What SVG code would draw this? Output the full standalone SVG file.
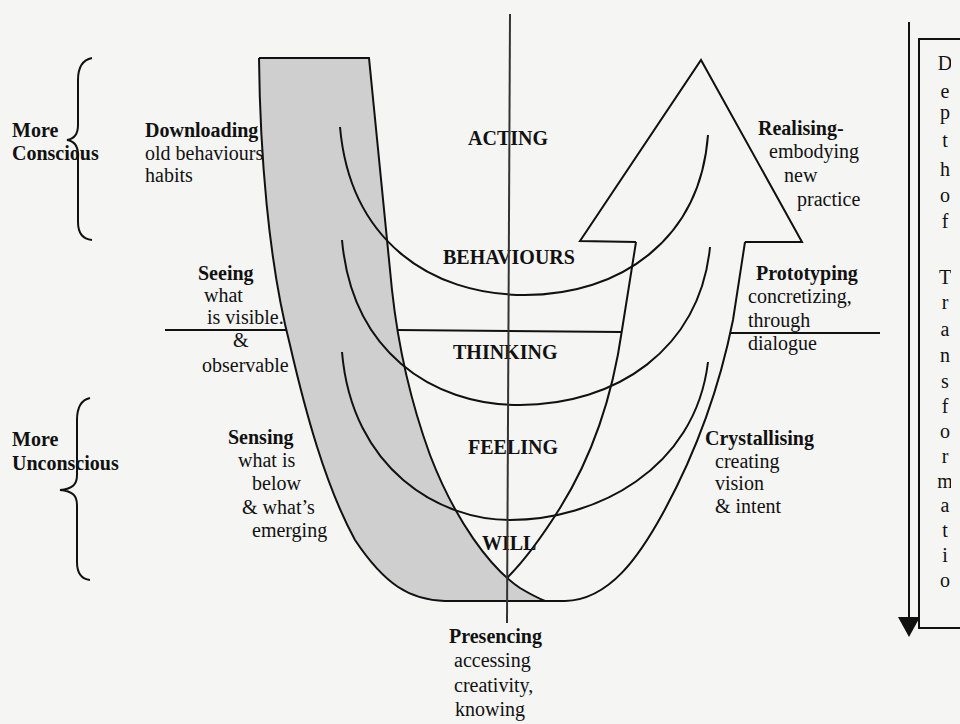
<svg xmlns="http://www.w3.org/2000/svg" width="960" height="724" viewBox="0 0 960 724">
<style>
text{font-family:"Liberation Serif","Times New Roman",serif;font-size:20px;fill:#111}
.b{font-weight:bold}
.ln{fill:none;stroke:#111;stroke-width:2}
.bx text{text-anchor:middle}
</style>
<defs>
<clipPath id="boxclip"><rect x="920" y="40" width="31" height="588"/></clipPath>
</defs>
<rect width="960" height="724" fill="#f5f5f3"/>

<g id="label-downloading">
<text x="145" y="137" class="b">Downloading</text>
<text x="145" y="160">old behaviours</text>
<text x="145" y="182">habits</text>
</g>
<g id="label-seeing">
<text x="198" y="280" class="b">Seeing</text>
<text x="204" y="302">what</text>
<text x="207" y="324">is visible.</text>
<text x="233" y="347">&amp;</text>
<text x="202" y="372">observable</text>
</g>

<g id="connectors">
<path class="ln" d="M165,330 L288,330 M397,330 L621,332 M731,333 L880,333"/>
</g>

<g id="u-shape">
<path fill="#cfcfcf" stroke="none" d="M259,58 L369,58 L392,290 C398,345 410,400 430,455 C455,520 490,568 520,588 C530,594 538,598 545,601 L445,601 C410,600 385,585 355,540 C325,485 305,410 290,345 C268,260 260,150 259,58 Z"/>
<path class="ln" d="M259,58 L369,58 L392,290 C398,345 410,400 430,455 C455,520 490,568 520,588 C530,594 538,598 545,601"/>
<path class="ln" d="M259,58 C260,150 268,260 290,345 C305,410 325,485 355,540 C385,585 410,600 445,601 L565,601 C610,600 640,555 663,513 C692,460 718,395 733,320 L745,242"/>
<path class="ln" d="M507,578 C520,565 540,540 560,508 C590,460 612,400 622,330 L636,242"/>
<path class="ln" d="M636,242 L580,241 L701,60 L802,242 L745,242"/>
</g>

<g id="arcs">
<path class="ln" d="M340,127 C350,240 430,295 525,295 C620,295 700,240 708,135"/>
<path class="ln" d="M342,240 C352,350 430,405 520,405 C615,405 700,350 710,247"/>
<path class="ln" d="M342,352 C352,470 440,520 510,520 C595,520 695,470 708,362"/>
</g>

<g id="level-acting"><text x="468" y="145" class="b">ACTING</text></g>
<g id="level-behaviours"><text x="443" y="264" class="b">BEHAVIOURS</text></g>
<g id="level-thinking"><text x="453" y="359" class="b">THINKING</text></g>
<g id="level-feeling"><text x="468" y="454" class="b">FEELING</text></g>
<g id="level-will"><text x="482" y="550" class="b">WILL</text></g>

<g id="axis">
<path d="M510,14 L507,623" fill="none" stroke="#333" stroke-width="2"/>
</g>

<g id="brace-conscious">
<path class="ln" d="M92,58 C82,60 78,68 78,80 L78,125 C78,134 74,139 67,140 C74,141 78,146 78,155 L78,222 C78,233 82,239 92,240"/>
<text x="12" y="137" class="b">More</text>
<text x="12" y="160" class="b">Conscious</text>
</g>
<g id="brace-unconscious">
<path class="ln" d="M90,398 C81,400 77,408 77,420 L77,475 C77,484 73,489 60,490 C73,491 77,496 77,505 L77,562 C77,573 81,579 90,580"/>
<text x="12" y="446" class="b">More</text>
<text x="12" y="470" class="b">Unconscious</text>
</g>

<g id="label-sensing">
<text x="228" y="444" class="b">Sensing</text>
<text x="238" y="467">what is</text>
<text x="252" y="490">below</text>
<text x="242" y="514">&amp; what’s</text>
<text x="252" y="537">emerging</text>
</g>
<g id="label-presencing">
<text x="449" y="643" class="b">Presencing</text>
<text x="454" y="667">accessing</text>
<text x="454" y="692">creativity,</text>
<text x="455" y="716">knowing</text>
</g>
<g id="label-realising">
<text x="758" y="135" class="b">Realising-</text>
<text x="769" y="158">embodying</text>
<text x="784" y="182">new</text>
<text x="797" y="206">practice</text>
</g>
<g id="label-prototyping">
<text x="756" y="280" class="b">Prototyping</text>
<text x="748" y="303">concretizing,</text>
<text x="748" y="327">through</text>
<text x="748" y="350">dialogue</text>
</g>
<g id="label-crystallising">
<text x="705" y="445" class="b">Crystallising</text>
<text x="715" y="468">creating</text>
<text x="715" y="490">vision</text>
<text x="715" y="513">&amp; intent</text>
</g>

<g id="depth-arrow">
<path d="M909,22 L909,618" fill="none" stroke="#111" stroke-width="2"/>
<polygon points="898,617 920,617 909,637" fill="#111"/>
</g>
<g id="depth-box" class="bx">
<path class="ln" d="M962,39 L919,39 L919,628 L962,628"/>
<g clip-path="url(#boxclip)">
<text x="945" y="70">D</text>
<text x="945" y="98">e</text>
<text x="945" y="119">p</text>
<text x="945" y="147">t</text>
<text x="945" y="176">h</text>
<text x="945" y="202">o</text>
<text x="945" y="228">f</text>
<text x="945" y="284">T</text>
<text x="945" y="309">r</text>
<text x="945" y="336">a</text>
<text x="945" y="362">n</text>
<text x="945" y="388">s</text>
<text x="945" y="413">f</text>
<text x="945" y="438">o</text>
<text x="945" y="463">r</text>
<text x="945" y="488">m</text>
<text x="945" y="512">a</text>
<text x="945" y="537">t</text>
<text x="945" y="562">i</text>
<text x="945" y="587">o</text>
</g>
</g>
</svg>
